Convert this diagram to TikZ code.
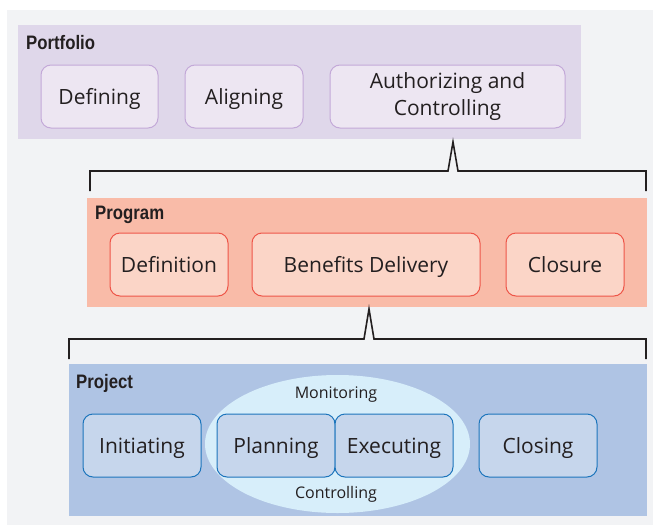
\documentclass[tikz,border=0pt]{standalone}
\usepackage{fontspec}
\setmainfont{Open Sans}
\newfontfamily\headfont[FakeStretch=0.86]{Liberation Sans}
\usetikzlibrary{shapes.geometric}

\definecolor{pageback}{HTML}{F2F3F5}
\definecolor{ink}{HTML}{231F20}
\definecolor{pfback}{HTML}{DFD7EA}
\definecolor{pffill}{HTML}{EDE6F2}
\definecolor{pfline}{HTML}{C3A9D8}
\definecolor{pgback}{HTML}{F9BBA8}
\definecolor{pgfill}{HTML}{FBD5C7}
\definecolor{pgline}{HTML}{EE5548}
\definecolor{pjback}{HTML}{AFC4E4}
\definecolor{pjfill}{HTML}{C6D6EC}
\definecolor{pjline}{HTML}{1C75BC}
\definecolor{loopfill}{HTML}{D7EEFA}

\tikzset{
  band/.style={fill=#1, draw=none},
  stage/.style={rounded corners=10pt, line width=1pt, align=center,
    text=ink, font=\fontsize{21}{27}\selectfont, inner sep=0pt,
    text height=17pt, text depth=2pt},
  pfstage/.style={stage, fill=pffill, draw=pfline},
  pgstage/.style={stage, fill=pgfill, draw=pgline},
  pjstage/.style={stage, fill=pjfill, draw=pjline},
  title/.style={anchor=west, text=ink, font=\headfont\bfseries\fontsize{19.5}{22}\selectfont, inner sep=0pt},
  cycle/.style={text=ink, font=\fontsize{16}{19}\selectfont, inner sep=0pt},
  bracket/.style={draw=ink, line width=1.6pt, line join=miter}
}

\begin{document}
\begin{tikzpicture}[x=1pt, y=-1pt]
  % page and backdrop
  \fill[white] (0,0) rectangle (653,525);
  \useasboundingbox (0,0) rectangle (653,525);
  \fill[pageback] (7,10) rectangle (653,525);

  % Portfolio level
  \fill[band=pfback] (18,25) rectangle (581,139);
  \node[title] (pftitle) at (26,43) {Portfolio};
  \node[pfstage, minimum width=117pt, minimum height=63pt] (defining) at (99.5,96.5) {Defining};
  \node[pfstage, minimum width=118pt, minimum height=63pt] (aligning) at (244,96.5) {Aligning};
  \node[pfstage, minimum width=235pt, minimum height=63pt, text height=, text depth=] (authorizing) at (447.5,96.5) {Authorizing and\\Controlling};

  % Program level
  \fill[band=pgback] (87,198) rectangle (647,307);
  \node[title] (pgtitle) at (95,215) {Program};
  \node[pgstage, minimum width=118pt, minimum height=63pt] (definition) at (169,264.5) {Definition};
  \node[pgstage, minimum width=228pt, minimum height=63pt] (benefits) at (366,264.5) {Benefits Delivery};
  \node[pgstage, minimum width=118pt, minimum height=63pt] (closure) at (565,264.5) {Closure};

  % Project level
  \fill[band=pjback] (69,364) rectangle (647,516);
  \node[title] (pjtitle) at (76,383) {Project};
  \node[ellipse, fill=loopfill, draw=none, minimum width=265pt, minimum height=138pt] (loop) at (337.5,444) {};
  \node[cycle] (monitoring) at (336,395) {Monitoring};
  \node[cycle] (controlling) at (336,494) {Controlling};
  \node[pjstage, minimum width=118pt, minimum height=63pt] (initiating) at (142,445.5) {Initiating};
  \node[pjstage, minimum width=118pt, minimum height=63pt] (planning) at (276,445.5) {Planning};
  \node[pjstage, minimum width=118pt, minimum height=63pt] (executing) at (394,445.5) {Executing};
  \node[pjstage, minimum width=118pt, minimum height=63pt] (closing) at (538,445.5) {Closing};

  % bracket linking program to portfolio
  \coordinate (ba) at (90,191);
  \coordinate (bb) at (646,191);
  \coordinate (bpeak) at (453,142);
  \draw[bracket] (ba) -- (90,171) -- (448,171) -- (bpeak) -- (458,171) -- (646,171) -- (bb);

  % bracket linking project to program
  \coordinate (ca) at (69,359);
  \coordinate (cb) at (646,359);
  \coordinate (cpeak) at (369,309);
  \draw[bracket] (ca) -- (69,339) -- (364,339) -- (cpeak) -- (374,339) -- (646,339) -- (cb);
\end{tikzpicture}
\end{document}
